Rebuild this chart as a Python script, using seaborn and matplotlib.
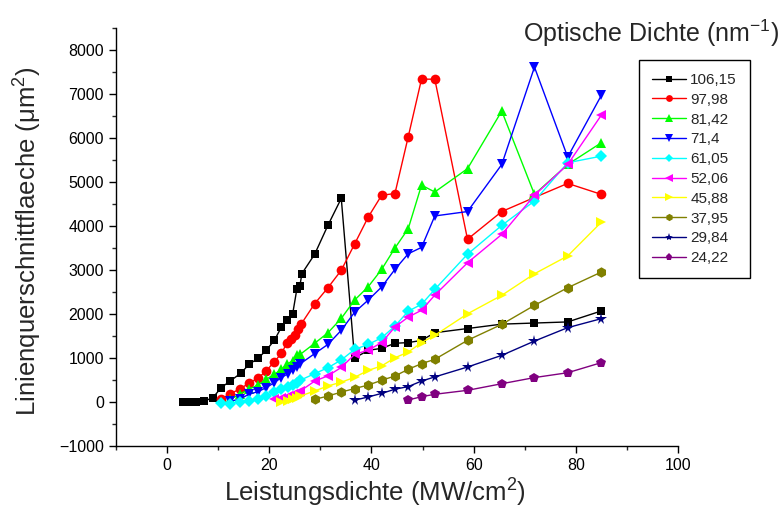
import numpy as np
import pandas as pd
import seaborn as sns
import matplotlib
matplotlib.use("Agg")
import matplotlib.pyplot as plt
from matplotlib.ticker import MultipleLocator

# ---- data ----
labels = ["106,15", "97,98", "81,42", "71,4", "61,05", "52,06", "45,88", "37,95", "29,84", "24,22"]

x_106 = [3.1, 4.4, 5.7, 7.2, 9.0, 10.6, 12.4, 14.4, 16.1, 17.8, 19.4, 21.0, 22.4, 23.5, 24.6, 25.4, 26.0, 26.4,
         28.9, 31.5, 34.1, 36.7, 39.4, 42.0, 44.6, 47.2, 49.8, 52.4, 58.8, 65.5, 71.9, 78.4, 85.0]
y_106 = [0, 0, 0, 15, 100, 325, 480, 650, 860, 990, 1175, 1400, 1705, 1860, 2010, 2560, 2640, 2920,
         3360, 4020, 4630, 1000, 1175, 1220, 1335, 1350, 1400, 1575, 1670, 1770, 1795, 1820, 2070]

x_98 = [10.6, 12.4, 14.2, 16.0, 17.8, 19.4, 21.0, 22.4, 23.5, 24.3, 25.0, 25.6, 26.3, 28.9, 31.5, 34.1,
        36.7, 39.4, 42.0, 44.6, 47.2, 49.8, 52.4, 58.8, 65.5, 71.9, 78.4, 85.0]
y_98 = [60, 190, 290, 425, 540, 705, 915, 1105, 1350, 1425, 1520, 1650, 1780, 2235, 2600, 2995,
        3590, 4210, 4700, 4740, 6030, 7340, 7340, 3700, 4330, 4650, 4970, 4720]

x_81 = [12.4, 14.2, 16.0, 17.8, 19.4, 21.0, 22.4, 23.5, 24.6, 25.4, 26.1, 28.9, 31.5, 34.1, 36.7, 39.4,
        42.0, 44.6, 47.2, 49.8, 52.4, 58.8, 65.5, 71.9, 78.4, 85.0]
y_81 = [60, 175, 290, 385, 515, 630, 740, 870, 930, 1070, 1085, 1335, 1575, 1900, 2315, 2625,
        3015, 3500, 3940, 4930, 4775, 5305, 6615, 4720, 5400, 5895]

x_71 = [12.4, 14.2, 16.0, 17.8, 19.4, 21.0, 22.4, 23.7, 24.6, 25.4, 26.1, 28.9, 31.5, 34.1, 36.7, 39.4,
        42.0, 44.6, 47.2, 49.8, 52.4, 58.8, 65.5, 71.9, 78.4, 85.0]
y_71 = [20, 60, 175, 235, 325, 440, 555, 645, 720, 795, 870, 1100, 1310, 1630, 2040, 2320,
        2615, 3015, 3370, 3515, 4230, 4330, 5400, 7615, 5570, 6975]

x_61 = [10.6, 12.4, 14.2, 16.0, 17.8, 19.4, 21.0, 22.4, 23.7, 24.6, 25.4, 26.1, 28.9, 31.5, 34.1, 36.7,
        39.4, 42.0, 44.6, 47.2, 49.8, 52.4, 58.8, 65.5, 71.9, 78.4, 85.0]
y_61 = [-15, -35, 0, 25, 60, 135, 225, 290, 340, 385, 440, 495, 645, 780, 955, 1195,
        1310, 1460, 1725, 2065, 2220, 2560, 3360, 4015, 4570, 5440, 5590]

x_52 = [21.0, 22.4, 23.7, 24.6, 25.4, 26.1, 28.9, 31.5, 34.1, 36.7, 39.4, 42.0, 44.6, 47.2, 49.8, 52.4,
        58.8, 65.5, 71.9, 78.4, 85.0]
y_52 = [60, 100, 135, 175, 210, 250, 475, 595, 785, 1080, 1180, 1350, 1705, 1930, 2085, 2430,
        3165, 3810, 4700, 5400, 6525]

x_46 = [22.4, 23.7, 24.6, 25.4, 26.1, 28.9, 31.5, 34.1, 36.7, 39.4, 42.0, 44.6, 47.2, 49.8, 52.4,
        58.8, 65.5, 71.9, 78.4, 85.0]
y_46 = [0, 25, 60, 100, 135, 250, 365, 450, 560, 720, 820, 1005, 1135, 1350, 1515,
        2005, 2425, 2915, 3320, 4090]

x_38 = [28.9, 31.5, 34.1, 36.7, 39.4, 42.0, 44.6, 47.2, 49.8, 52.4, 58.8, 65.5, 71.9, 78.4, 85.0]
y_38 = [60, 135, 225, 305, 386, 493, 591, 743, 871, 970, 1402, 1765, 2197, 2598, 2955]

x_30 = [36.7, 39.4, 42.0, 44.6, 47.2, 49.8, 52.4, 58.8, 65.5, 71.9, 78.4, 85.0]
y_30 = [40, 115, 195, 290, 350, 475, 570, 795, 1060, 1385, 1690, 1895]

x_24 = [47.2, 49.8, 52.4, 58.8, 65.5, 71.9, 78.4, 85.0]
y_24 = [45, 120, 175, 265, 415, 555, 665, 895]

xs = [x_106, x_98, x_81, x_71, x_61, x_52, x_46, x_38, x_30, x_24]
ys = [y_106, y_98, y_81, y_71, y_61, y_52, y_46, y_38, y_30, y_24]

colors = ["#000000", "#FF0000", "#00FF00", "#0000FF", "#00FFFF", "#FF00FF", "#FFFF00", "#808000", "#000080", "#800080"]
markers = ["s", "o", "^", "v", "D", "<", ">", "h", "*", "p"]
msizes = [6, 7, 7.5, 7.5, 6.5, 7.5, 7.5, 7.5, 8.5, 7.5]

# ---- style ----
sns.set_theme(style="ticks")
plt.rcParams["font.family"] = ["Liberation Sans", "DejaVu Sans"]
plt.rcParams["mathtext.fontset"] = "custom"
plt.rcParams["mathtext.rm"] = "Liberation Sans"
plt.rcParams["mathtext.it"] = "Liberation Sans:italic"
plt.rcParams["mathtext.bf"] = "Liberation Sans:bold"

fig = plt.figure(figsize=(7.83, 5.12), dpi=100)
ax = fig.add_axes([0.148, 0.129, 0.718, 0.816])

for i in range(len(labels)):
    df = pd.DataFrame({"x": xs[i], "y": ys[i]})
    sns.lineplot(data=df, x="x", y="y", ax=ax, color=colors[i], marker=markers[i],
                 markersize=msizes[i], markeredgewidth=0, linewidth=1.0,
                 sort=False, estimator=None, label=labels[i])

ax.set_xlim(-10, 100)
ax.set_ylim(-1000, 8500)
ax.xaxis.set_major_locator(MultipleLocator(20))
ax.xaxis.set_minor_locator(MultipleLocator(10))
ax.yaxis.set_major_locator(MultipleLocator(1000))
ax.yaxis.set_minor_locator(MultipleLocator(500))
ax.tick_params(which="major", direction="out", length=5, width=1, labelsize=11.5, colors="black")
ax.tick_params(which="minor", direction="out", length=3, width=1)
ax.set_yticks(np.arange(-1000, 8001, 1000))
for s in ["top", "right"]:
    ax.spines[s].set_visible(False)
for s in ["left", "bottom"]:
    ax.spines[s].set_color("black")
    ax.spines[s].set_linewidth(1.0)

ax.set_xlabel("Leistungsdichte (MW/cm$^{2}$)", fontsize=18.5, va="center")
ax.set_ylabel("Linienquerschnittflaeche (μm$^{2}$)", fontsize=18.5, va="center")
ax.xaxis.set_label_coords(0.461, -0.112)
ax.yaxis.set_label_coords(-0.157, 0.49)

leg = ax.legend(loc="upper left", bbox_to_anchor=(639 / 783, 1 - 60 / 512),
                bbox_transform=fig.transFigure, borderaxespad=0, fontsize=11,
                frameon=True, fancybox=False, edgecolor="black", framealpha=1,
                handlelength=2.2, handletextpad=0.3, labelspacing=0.38,
                borderpad=0.85, markerscale=0.7)
leg.get_frame().set_linewidth(1.0)

fig.text(651 / 783, 1 - 33 / 512, "Optische Dichte (nm$^{-1}$)", fontsize=18,
         ha="center", va="center")

fig.savefig("out.png", dpi=100)
